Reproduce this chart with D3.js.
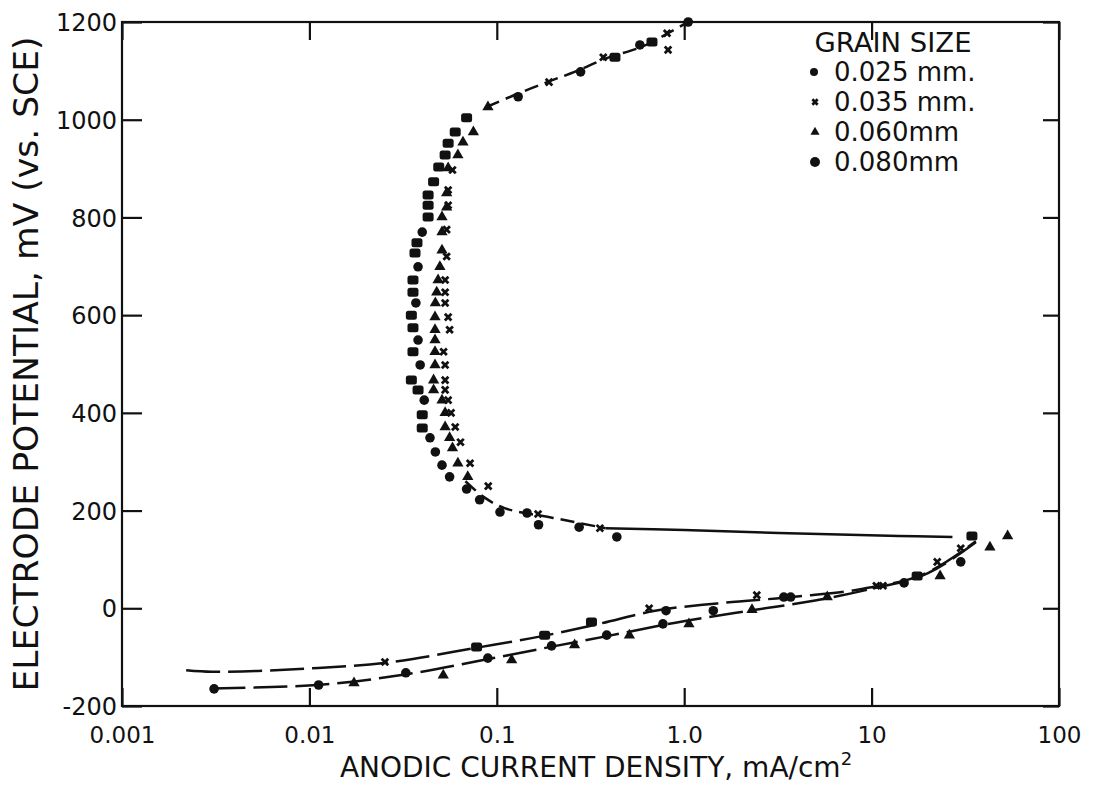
<!DOCTYPE html>
<html>
<head>
<meta charset="utf-8">
<script src="https://cdn.jsdelivr.net/npm/d3@7/dist/d3.min.js"></script>
<style>
  html, body { margin: 0; padding: 0; background: #fff; }
  svg { display: block; }
  text { font-family: "DejaVu Sans", sans-serif; fill: #111; }
</style>
</head>
<body>
<svg id="chart" width="1094" height="804"></svg>
<script>
// Anodic polarization curves for four grain sizes
// current density in mA/cm^2, potential in mV vs. SCE

const xTicks = [0.001, 0.01, 0.1, 1, 10, 100];
const xTickLabels = ["0.001", "0.01", "0.1", "1.0", "10", "100"];
const yTicks = [-200, 0, 200, 400, 600, 800, 1000, 1200];
const yTickLabels = ["-200", "0", "200", "400", "600", "800", "1000", "1200"];

const grainSizes = ["0.025 mm.", "0.035 mm.", "0.060mm", "0.080mm"];

// 0.025 mm (dots)
const g025 = [
  [1.05, 1200], [0.58, 1153], [0.28, 1098], [0.13, 1047],
  [0.040, 770], [0.038, 699], [0.037, 625], [0.038, 549], [0.039, 498],
  [0.041, 426], [0.044, 349], [0.047, 320], [0.051, 293], [0.056, 269],
  [0.069, 244], [0.081, 222], [0.104, 197], [0.145, 195], [0.167, 171],
  [0.275, 166], [0.437, 146],
  [0.0031, -165], [0.0112, -157], [0.0327, -132], [0.0896, -102],
  [0.196, -77], [0.386, -55], [0.77, -32], [0.80, -5], [1.43, -5],
  [3.4, 23], [3.7, 23], [14.9, 52], [29.9, 95]
];

// 0.035 mm (small crosses)
const g035 = [
  [0.82, 1143], [0.81, 1177], [0.37, 1128], [0.19, 1077],
  [0.058, 897], [0.055, 856], [0.055, 825], [0.054, 775], [0.054, 720],
  [0.053, 672], [0.053, 647], [0.053, 625], [0.055, 596], [0.056, 570],
  [0.052, 525], [0.053, 498], [0.053, 467], [0.053, 447], [0.055, 426],
  [0.057, 400], [0.060, 371], [0.064, 340], [0.072, 297], [0.090, 250],
  [0.166, 193], [0.355, 164],
  [0.0253, -110], [0.65, 0], [2.44, 27], [10.6, 46], [11.5, 46], [22.4, 95], [29.9, 123]
];

// 0.060 mm (triangles)
const g060 = [
  [0.0897, 1026], [0.075, 975], [0.066, 954], [0.062, 928], [0.055, 901],
  [0.054, 850], [0.054, 821], [0.051, 801], [0.051, 770], [0.051, 733],
  [0.0497, 699], [0.0486, 672], [0.0478, 647], [0.047, 625], [0.0468, 596],
  [0.0468, 570], [0.0468, 549], [0.0468, 525], [0.0468, 498], [0.046, 467],
  [0.046, 447], [0.051, 426], [0.053, 400], [0.053, 371], [0.056, 349],
  [0.058, 328], [0.062, 297], [0.070, 269],
  [0.0173, -153], [0.0518, -137], [0.12, -106], [0.26, -75], [0.51, -55],
  [1.06, -32], [2.3, -3], [5.8, 23], [23.2, 66], [42.8, 125], [53.2, 148]
];

// 0.080 mm (blocks)
const g080 = [
  [0.673, 1159], [0.427, 1128], [0.069, 1004], [0.060, 975], [0.055, 952],
  [0.053, 928], [0.049, 903], [0.046, 873], [0.043, 846], [0.043, 825],
  [0.043, 801], [0.0375, 748], [0.0366, 727], [0.0357, 672], [0.0357, 647],
  [0.035, 600], [0.0357, 574], [0.0357, 525], [0.035, 467], [0.038, 447],
  [0.040, 396], [0.040, 369],
  [0.078, -79], [0.18, -55], [0.32, -28], [17.5, 66], [34.3, 148]
];

// drawn curves
const upperCurve = [[1.1, 1205], [0.82, 1177], [0.6, 1150], [0.38, 1125], [0.26, 1098],
  [0.18, 1075], [0.12, 1048], [0.088, 1026]];
const bendCurve = [[0.068, 260], [0.085, 228], [0.11, 205], [0.2, 185], [0.38, 164]];
const tailCurve = [[0.38, 164], [1.0, 160], [3.2, 154], [14, 148], [27, 146]];
const lowerCurveA = [[0.0022, -127], [0.003, -130], [0.01, -123], [0.025, -112],
  [0.08, -80], [0.18, -56], [0.35, -32], [0.7, -5], [1.5, 10], [4, 24], [9, 40],
  [20, 74], [36, 137]];
const lowerCurveB = [[0.003, -164], [0.011, -157], [0.033, -135], [0.09, -104],
  [0.2, -78], [0.4, -56], [0.8, -33], [2.3, -4], [5, 16], [10, 40], [20, 72], [36, 135]];

const svg = d3.select("#chart");
const mLeft = 122, mRight = 1059, mTop = 22, mBottom = 706;

const x = d3.scaleLog().domain([0.001, 100]).range([mLeft, mRight]);
const y = d3.scaleLinear().domain([-200, 1200]).range([mBottom, mTop]);

// frame
svg.append("rect")
  .attr("x", mLeft).attr("y", mTop)
  .attr("width", mRight - mLeft).attr("height", mBottom - mTop)
  .attr("fill", "none").attr("stroke", "#111").attr("stroke-width", 2.2);

// axes with inward ticks
const axB = svg.append("g").attr("transform", `translate(0,${mBottom})`)
  .call(d3.axisBottom(x).tickValues(xTicks).tickSizeInner(-18).tickSizeOuter(0)
    .tickFormat((d, i) => xTickLabels[i]).tickPadding(21));
const axT = svg.append("g").attr("transform", `translate(0,${mTop})`)
  .call(d3.axisTop(x).tickValues(xTicks).tickSizeInner(-18).tickSizeOuter(0).tickFormat(""));
const axL = svg.append("g").attr("transform", `translate(${mLeft},0)`)
  .call(d3.axisLeft(y).tickValues(yTicks).tickSizeInner(-20).tickSizeOuter(0)
    .tickFormat((d, i) => yTickLabels[i]).tickPadding(5));
const axR = svg.append("g").attr("transform", `translate(${mRight},0)`)
  .call(d3.axisRight(y).tickValues(yTicks).tickSizeInner(-16).tickSizeOuter(0).tickFormat(""));

[axB, axT, axL, axR].forEach(g => {
  g.select(".domain").remove();
  g.selectAll(".tick line").attr("stroke", "#111").attr("stroke-width", 2.2);
  g.selectAll(".tick text").attr("fill", "#111").style("font-family", "DejaVu Sans, sans-serif");
});
axB.selectAll(".tick text").style("font-size", "23px");
axL.selectAll(".tick text").style("font-size", "24px").attr("dy", "0.36em");

// axis titles
const xt = svg.append("text")
  .attr("x", 596).attr("y", 777)
  .attr("text-anchor", "middle").style("font-size", "28px");
xt.append("tspan").text("ANODIC  CURRENT  DENSITY, mA/cm");
xt.append("tspan").attr("dy", -12).style("font-size", "18px").text("2");

svg.append("text")
  .attr("transform", `translate(38,${(mTop + mBottom) / 2}) rotate(-90)`)
  .attr("text-anchor", "middle").style("font-size", "33px")
  .attr("textLength", 655).attr("lengthAdjust", "spacingAndGlyphs")
  .text("ELECTRODE  POTENTIAL,  mV  (vs. SCE)");

// curves
const line = d3.line().x(d => x(d[0])).y(d => y(d[1])).curve(d3.curveMonotoneX);
const lineY = d3.line().x(d => x(d[0])).y(d => y(d[1])).curve(d3.curveCatmullRom);

svg.append("path").datum(upperCurve).attr("d", lineY)
  .attr("fill", "none").attr("stroke", "#111").attr("stroke-width", 2.5).attr("stroke-dasharray", "14,7");
svg.append("path").datum(bendCurve).attr("d", lineY)
  .attr("fill", "none").attr("stroke", "#111").attr("stroke-width", 2.5).attr("stroke-dasharray", "14,7");
svg.append("path").datum(tailCurve).attr("d", lineY)
  .attr("fill", "none").attr("stroke", "#111").attr("stroke-width", 2.5);
svg.append("path").datum(lowerCurveA).attr("d", line)
  .attr("fill", "none").attr("stroke", "#111").attr("stroke-width", 2.5).attr("stroke-dasharray", "34,8");
svg.append("path").datum(lowerCurveB).attr("d", line)
  .attr("fill", "none").attr("stroke", "#111").attr("stroke-width", 2.5).attr("stroke-dasharray", "34,8");

// markers
const marks = svg.append("g");
function drawDot(g, px, py, r) {
  g.append("circle").attr("cx", px).attr("cy", py).attr("r", r).attr("fill", "#111");
}
function drawCross(g, px, py, s) {
  g.append("path").attr("d", d3.symbol(d3.symbolTimes, s)())
    .attr("transform", `translate(${px},${py})`)
    .attr("fill", "none").attr("stroke", "#111").attr("stroke-width", 2.8);
}
function drawTri(g, px, py, s) {
  g.append("path").attr("d", d3.symbol(d3.symbolTriangle, s)())
    .attr("transform", `translate(${px},${py})`).attr("fill", "#111");
}
function drawBlock(g, px, py, w, h) {
  g.append("rect").attr("x", px - w / 2).attr("y", py - h / 2)
    .attr("width", w).attr("height", h).attr("rx", 2.5).attr("fill", "#111");
}

g025.forEach(d => drawDot(marks, x(d[0]), y(d[1]), 4.8));
g035.forEach(d => drawCross(marks, x(d[0]), y(d[1]), 30));
g060.forEach(d => drawTri(marks, x(d[0]), y(d[1]), 55));
g080.forEach(d => drawBlock(marks, x(d[0]), y(d[1]), 11, 9));

// legend
const lg = svg.append("g");
lg.append("text").attr("x", 893).attr("y", 52).attr("text-anchor", "middle")
  .style("font-size", "26px").attr("textLength", 157).attr("lengthAdjust", "spacingAndGlyphs")
  .text("GRAIN SIZE");
const rowY = [72, 102, 132, 162];
grainSizes.forEach((t, i) => {
  lg.append("text").attr("x", 834).attr("y", rowY[i]).attr("dy", "0.36em")
    .style("font-size", "26px").text(t);
});
drawDot(lg, 814, rowY[0], 4);
drawCross(lg, 815, rowY[1], 20);
drawTri(lg, 815, rowY[2], 36);
drawDot(lg, 815, rowY[3], 5);
</script>
</body>
</html>
